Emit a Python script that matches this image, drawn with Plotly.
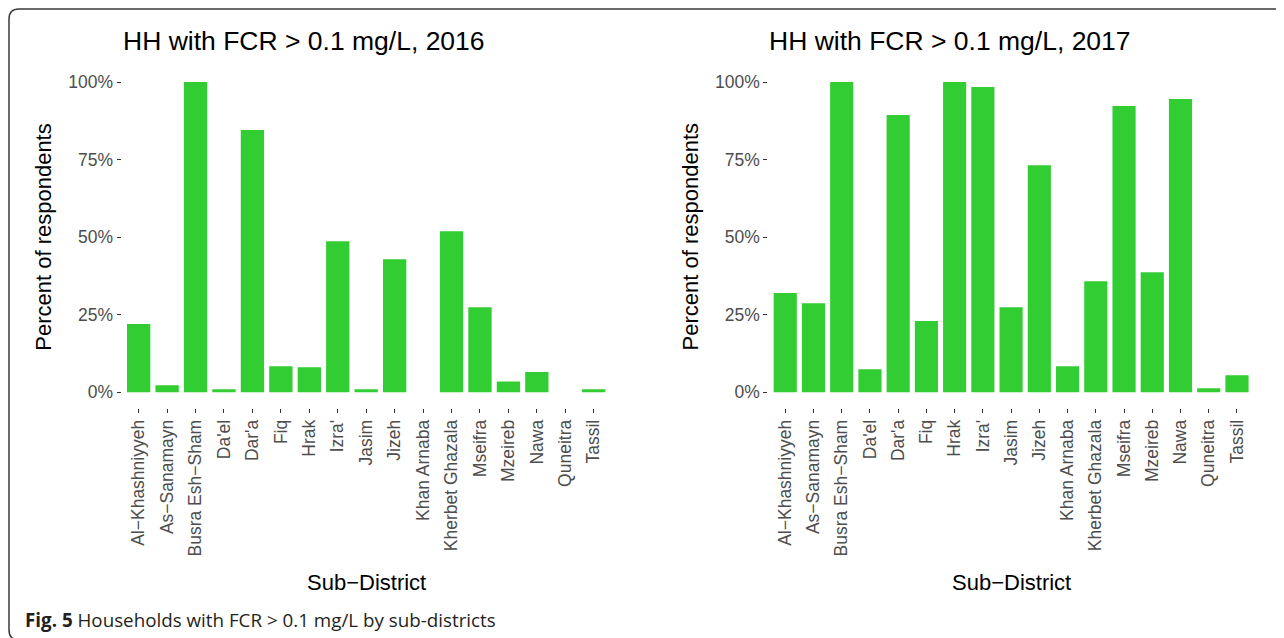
import plotly.graph_objects as go

W, H = 1284, 638
OFF = 8  # page body margin in the browser

districts = ["Al−Khashniyyeh", "As−Sanamayn", "Busra Esh−Sham", "Da'el", "Dar'a", "Fiq",
             "Hrak", "Izra'", "Jasim", "Jizeh", "Khan Arnaba", "Kherbet Ghazala",
             "Mseifra", "Mzeireb", "Nawa", "Quneitra", "Tassil"]
pct_2016 = [22.0, 2.3, 100.0, 1.0, 84.5, 8.4, 8.1, 48.7, 1.0, 42.9, 0.0, 51.9,
            27.4, 3.5, 6.5, 0.0, 1.0]
pct_2017 = [32.0, 28.7, 100.0, 7.4, 89.4, 23.0, 100.0, 98.4, 27.4, 73.2, 8.4, 35.8,
            92.3, 38.7, 94.5, 1.3, 5.5]
y_ticks = [0, 25, 50, 75, 100]
titles = ["HH with FCR > 0.1 mg/L, 2016", "HH with FCR > 0.1 mg/L, 2017"]
x_title = "Sub−District"
y_title = "Percent of respondents"
caption = "<b>Fig. 5</b> Households with FCR &gt; 0.1 mg/L by sub-districts"

GREEN = "#32CD32"
FONT = "Liberation Sans"

def px_x(p):
    return (p - OFF) / W

def px_y(p):
    return 1 - (p - OFF) / H

fig = go.Figure()
fig.add_trace(go.Bar(x=districts, y=pct_2016, marker=dict(color=GREEN, line=dict(width=0)),
                     width=0.82, xaxis="x", yaxis="y", showlegend=False))
fig.add_trace(go.Bar(x=districts, y=pct_2017, marker=dict(color=GREEN, line=dict(width=0)),
                     width=0.82, xaxis="x2", yaxis="y2", showlegend=False))

panels = [(121.6, 610.8), (768.3, 1253.9)]
top, bottom = 66.5, 407.8

tickfont = dict(family=FONT, size=17.5, color="#4D4D4D")
common_x = dict(type="category", range=[-0.6, len(districts) - 0.4], tickangle=-90,
                ticks="outside", ticklen=4, tickwidth=1.2, tickcolor="#333333",
                showgrid=False, zeroline=False, showline=False, tickfont=tickfont)
common_y = dict(range=[-5, 105], tickvals=y_ticks, ticktext=[f"{v}%" for v in y_ticks],
                ticks="outside", ticklen=4, tickwidth=1.2, tickcolor="#333333",
                showgrid=False, zeroline=False, showline=False, tickfont=tickfont)

fig.update_layout(
    width=W, height=H, margin=dict(l=0, r=0, t=0, b=0),
    paper_bgcolor="white", plot_bgcolor="white",
    xaxis=dict(domain=[px_x(panels[0][0]), px_x(panels[0][1])], anchor="y", **common_x),
    yaxis=dict(domain=[px_y(bottom), px_y(top)], anchor="x", **common_y),
    xaxis2=dict(domain=[px_x(panels[1][0]), px_x(panels[1][1])], anchor="y2", **common_x),
    yaxis2=dict(domain=[px_y(bottom), px_y(top)], anchor="x2", **common_y),
)

annotations = []
for i, (l, r) in enumerate(panels):
    annotations.append(dict(text=titles[i], x=px_x(l - 1), y=px_y(41), xref="paper", yref="paper",
                            xanchor="left", yanchor="middle", showarrow=False,
                            font=dict(family=FONT, size=26.5, color="black")))
    annotations.append(dict(text=x_title, x=px_x((l + r) / 2), y=px_y(582), xref="paper", yref="paper",
                            xanchor="center", yanchor="middle", showarrow=False,
                            font=dict(family=FONT, size=22, color="black")))
    annotations.append(dict(text=y_title, x=px_x(l - 78), y=px_y((top + bottom) / 2),
                            xref="paper", yref="paper", xanchor="center", yanchor="middle",
                            textangle=-90, showarrow=False,
                            font=dict(family=FONT, size=22, color="black")))
annotations.append(dict(text=caption, x=px_x(23), y=px_y(620), xref="paper", yref="paper",
                        xanchor="left", yanchor="middle", showarrow=False,
                        font=dict(family="Open Sans", size=18.8, color="#231F20")))
fig.update_layout(annotations=annotations)

# rounded outer frame
def P(x, y):
    return f"{px_x(x):.5f},{px_y(y):.5f}"

path = (f"M {P(1310, 640)} L {P(19, 640)} Q {P(9, 640)} {P(9, 630)} "
        f"L {P(9, 19)} Q {P(9, 9)} {P(19, 9)} L {P(1310, 9)}")
fig.add_shape(type="path", path=path, xref="paper", yref="paper",
              line=dict(color="#3a3a3a", width=1.5))

fig.write_html("out.html")
